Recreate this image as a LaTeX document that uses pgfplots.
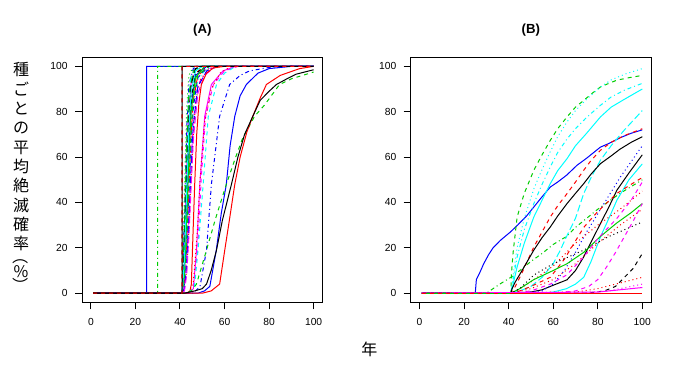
\documentclass[border=0pt]{standalone}
\usepackage{pgfplots}
\pgfplotsset{compat=1.18}
\usepackage{fontspec}
\setmainfont{Liberation Sans}
\newfontfamily\cjk{Noto Sans CJK JP}
\definecolor{rgreen}{HTML}{00CD00}
\definecolor{rblue}{HTML}{0000FF}
\definecolor{rcyan}{HTML}{00FFFF}
\definecolor{rmag}{HTML}{FF00FF}
\definecolor{rred}{HTML}{FF0000}
\tikzset{
 Lso/.style={solid},
 Lda/.style={dash pattern=on 3pt off 3pt},
 Ldo/.style={dash pattern=on 0.75pt off 2.25pt},
 Ldd/.style={dash pattern=on 0.75pt off 2.25pt on 3pt off 2.25pt},
 Lld/.style={dash pattern=on 5.25pt off 2.25pt},
}
\pgfplotsset{Rax/.style={
 scale only axis, width=180.4pt, height=183.75pt,
 xmin=-4, xmax=104, ymin=-4, ymax=104,
 xtick={0,20,...,100}, ytick={0,20,...,100},
 tick align=outside, tick pos=left,
 major tick length=5.25pt,
 every tick/.style={black, line width=0.75pt},
 axis line style={black, line width=0.75pt},
 tick label style={font=\fontsize{7.7}{9}\selectfont},
 xticklabel style={yshift=-3pt},
 yticklabel style={xshift=-2pt},
 /pgf/number format/assume math mode=true,
 every axis plot/.append style={line width=0.75pt},
 anchor=south west,
}}
\begin{document}
\begin{tikzpicture}[x=1pt,y=1pt]
\path[use as bounding box] (0,0) rectangle (510,280.5);
% ---------------- Panel A ----------------
\begin{axis}[Rax, at={(61.5pt,53.8pt)}]
\addplot[rblue,Lso] coordinates {(1,0)(25,0)(25.01,100)(100,100)};
\addplot[rgreen,Ldd] coordinates {(1,0)(30,0)(30.01,100)(100,100)};
\addplot[rgreen,Ldo] coordinates {(1,0)(41,0)(42,45)(43,82)(44,96)(46,100)(100,100)};
\addplot[rblue,Ldd] coordinates {(1,0)(41,0)(42,35)(43,72)(44,92)(46,99)(48,100)(100,100)};
\addplot[rcyan,Lld] coordinates {(1,0)(41,0)(42,28)(43,62)(44,86)(45,96)(48,100)(100,100)};
\addplot[rmag,Lda] coordinates {(1,0)(41,0)(42,22)(43,55)(44,80)(45,93)(47,99)(50,100)(100,100)};
\addplot[black,Ldo] coordinates {(1,0)(41,0)(42,18)(43,48)(44,75)(45,90)(47,98)(50,100)(100,100)};
\addplot[rred,Ldd] coordinates {(1,0)(41,0)(42,14)(43,42)(44,70)(45,87)(47,97)(51,100)(100,100)};
\addplot[rgreen,Lld] coordinates {(1,0)(41,0)(42,30)(43,66)(44,88)(46,98)(49,100)(100,100)};
\addplot[rblue,Lso] coordinates {(1,0)(41,0)(42,10)(43,35)(44,63)(45,83)(47,96)(52,100)(100,100)};
\addplot[rcyan,Lda] coordinates {(1,0)(41,0)(42,8)(43,30)(44,58)(45,80)(47,95)(52,100)(100,100)};
\addplot[rmag,Ldo] coordinates {(1,0)(41,0)(42,6)(43,25)(44,52)(45,75)(47,93)(50,98)(55,100)(100,100)};
\addplot[black,Ldd] coordinates {(1,0)(41,0)(42,12)(43,38)(44,66)(45,85)(47,97)(52,100)(100,100)};
\addplot[rred,Lld] coordinates {(1,0)(41,0)(42,5)(43,20)(44,45)(45,70)(46,85)(48,96)(53,100)(100,100)};
\addplot[rgreen,Lso] coordinates {(1,0)(41,0)(42,9)(43,33)(44,60)(45,80)(47,95)(51,100)(100,100)};
\addplot[rblue,Lda] coordinates {(1,0)(41,0)(42,4)(43,18)(44,42)(45,66)(46,82)(48,95)(53,100)(100,100)};
\addplot[rcyan,Ldo] coordinates {(1,0)(41,0)(42,3)(43,15)(44,38)(45,62)(46,80)(48,94)(52,99)(58,100)(100,100)};
\addplot[rmag,Ldd] coordinates {(1,0)(41,0)(42,4)(43,16)(44,36)(45,58)(46,76)(48,92)(53,99)(58,100)(100,100)};
\addplot[black,Lld] coordinates {(1,0)(41,0)(42,20)(43,52)(44,78)(45,92)(47,99)(50,100)(100,100)};
\addplot[rred,Ldo] coordinates {(1,0)(41,0)(42,2)(43,10)(44,28)(45,50)(46,70)(47,84)(49,94)(53,99)(58,100)(100,100)};
\addplot[rgreen,Lda] coordinates {(1,0)(41,0)(42,6)(43,24)(44,50)(45,72)(46,86)(48,96)(53,100)(100,100)};
\addplot[rblue,Lld] coordinates {(1,0)(41,0)(42,2)(43,12)(44,32)(45,55)(46,74)(48,91)(52,98)(57,100)(100,100)};
\addplot[rcyan,Lso] coordinates {(1,0)(41,0)(42,15)(43,45)(44,73)(45,89)(47,98)(50,100)(100,100)};
\addplot[rmag,Lld] coordinates {(1,0)(41,0)(42,1)(43,8)(44,25)(45,47)(46,68)(48,88)(51,96)(56,100)(100,100)};
\addplot[rred,Lso] coordinates {(1,0)(43,0)(44.5,1)(45.1,4)(45.8,25)(46.6,48)(47.5,70)(48.5,84)(49.6,92)(51.9,97)(55,99.3)(60,100)(100,100)};
\addplot[rmag,Lso] coordinates {(1,0)(44,0)(46,2)(47.4,19)(48.9,48)(51.1,78)(54.1,92)(59.3,98)(65,100)(100,100)};
\addplot[rmag,Lda] coordinates {(1,0)(44,0)(46,3)(48,20)(49.5,50)(51.5,78)(55,92)(60,98)(66,100)(100,100)};
\addplot[rred,Ldo] coordinates {(1,0)(44,0)(46,5)(48,30)(49,50)(51,75)(54,90)(58,97)(63,100)(100,100)};
\addplot[rcyan,Lda] coordinates {(1,0)(44,0)(46.5,3)(48.1,19)(50.4,48)(52.7,78)(56.4,92)(60,97)(65,100)(100,100)};
\addplot[rblue,Ldd] coordinates {(1,0)(46,0)(49,3)(51.9,19)(54.1,48)(57.8,78)(62.3,92)(67,96)(71.3,98)(80,99.5)(90,100)(100,100)};
\addplot[rblue,Lso] coordinates {(1,0)(48,0)(51,1)(53.4,3)(56.3,19)(58.5,35)(60.8,48)(62.5,65)(64.6,78)(67,87)(69.8,92)(75,97)(80,99)(90,100)(100,100)};
\addplot[rgreen,Lda] coordinates {(1,0)(42,0)(45,1)(47.4,4)(51.9,19)(56,33)(60.8,48)(65,60)(68,68)(73.5,78)(78,83)(84.7,92)(90,94.5)(95,96)(100,97.5)};
\addplot[rred,Lso] coordinates {(1,0)(50,0)(54,1)(57.8,4)(60.1,19)(62.3,33)(64.6,48)(67,60)(70,71)(72.7,78)(76,86)(78.8,92)(85,96)(93.7,99)(100,100)};
\addplot[black,Lso] coordinates {(1,0)(42,0)(46.6,1)(50,2)(51.9,4)(54,10)(56.4,19)(59,32)(63.1,48)(66,60)(69,70)(72.7,78)(76,85)(80,89)(83.3,92)(88,94.5)(92,96.5)(96,97.5)(100,98.5)};
\addplot[black,Lso] coordinates {(1,0)(41,0)(41.01,100)(100,100)};
\addplot[black,Lda] coordinates {(1,0)(41,0)(41.01,100)(100,100)};
\addplot[rred,Lda] coordinates {(1,0)(41,0)(41.01,100)(100,100)};
\end{axis}
% ---------------- Panel B ----------------
\begin{axis}[Rax, at={(308pt,53.8pt)}]
\addplot[black,Lso] coordinates {(1,0)(100,0)};
\addplot[rblue,Lso] coordinates {(1,0)(25,0)(25.5,6)(27,9)(28.8,13)(31,17)(33,20)(36.3,23.3)(40.8,27)(44,30)(48,34)(51.3,38)(55,42.5)(58.7,46.8)(62,49)(66,52)(70.7,56.4)(75,59.5)(81.2,64.4)(85,66)(90,68.5)(95,70.5)(100,72)};
\addplot[rgreen,Ldd] coordinates {(1,0)(30,0)(33,2)(36,4)(41,7)(45,10)(50,14)(55,17.5)(60,21.5)(66,25)(70,29)(75,33)(80,37)(85,40.5)(90,44)(95,47)(100,50)};
\addplot[rgreen,Lda] coordinates {(1,0)(41,0)(41.2,8)(42,18)(43.8,33.6)(47,44)(51.3,54.2)(55,61)(58.7,67.4)(62,72.5)(66.2,77.7)(70,82)(73.7,85)(78,88.5)(81.2,90.9)(85,92.5)(88.6,93.9)(94,95)(100,96)};
\addplot[rcyan,Ldo] coordinates {(1,0)(41,0)(42.3,10)(43.8,20)(47,33)(51.3,46)(54.3,53)(58,61)(62,69)(66.2,75.5)(70,80.5)(75,85.5)(81.2,90.9)(86,94)(92,96.5)(100,99)};
\addplot[rcyan,Ldd] coordinates {(1,0)(41,0)(42,6)(43.8,16)(47,28)(51.3,39.5)(55,48)(58.7,55.7)(62,62)(66.2,68)(70,72.5)(75,77.5)(81.2,82.8)(86,86.5)(92,89.5)(100,92.5)};
\addplot[rcyan,Lso] coordinates {(1,0)(41,0)(42,4)(43.8,11.6)(47,22)(51.3,33.6)(55,41)(58.7,48.3)(62,54)(66.2,59.3)(70,65)(75,70.5)(81.2,77.7)(86,82)(92,85.5)(100,90)};
\addplot[rcyan,Lld] coordinates {(1,0)(41,0)(45,1)(50,3)(55,7)(60,13)(63.2,19)(66,25)(70,33)(73.7,43.9)(77,51)(81.2,58.6)(86,65)(92,72)(100,80.5)};
\addplot[rcyan,Lso] coordinates {(1,0)(55,0)(60,0.5)(66,2)(70,4)(73.7,7)(77,14)(81.2,24.8)(85,33)(88.6,41)(94,50)(100,57)};
\addplot[rred,Lda] coordinates {(1,0)(41,0)(43,3)(46,9)(51.3,20.4)(55,27)(58.7,33.6)(62,38.5)(66.2,43.9)(70,49)(73.7,54.2)(77,58.5)(81.2,63)(86,66.5)(92,69.5)(100,72.5)};
\addplot[black,Lso] coordinates {(1,0)(41,0)(41.5,2)(43,5)(46,10)(51.3,19)(55,24.5)(58.7,29.2)(62,34)(66.2,39.5)(70,44)(73.7,48.3)(77,52.5)(81.2,57.1)(86,60.5)(90,63.5)(95,66.5)(100,69)};
\addplot[black,Lso] coordinates {(1,0)(41,0)(50,0.5)(55,1.5)(60,3.5)(66.2,5.9)(70,10)(73.7,16)(77,22.5)(81.2,30.7)(85,38)(88.6,45.4)(94,53)(100,61)};
\addplot[rblue,Ldo] coordinates {(1,0)(41,0)(55,1)(60,4)(65,10)(70,18)(75,27)(80,35)(85,43)(90,51)(95,58)(100,65)};
\addplot[rred,Lda] coordinates {(1,0)(41,0)(45,1)(50,3)(58.7,7)(65,15)(73.7,29)(80,36)(88.6,44)(95,48)(100,51)};
\addplot[rred,Ldo] coordinates {(1,0)(41,0)(45,2)(50,5)(60,12)(70,22)(80,30)(90,37)(100,45)};
\addplot[rred,Ldo] coordinates {(1,0)(41,0)(50,2)(60,6)(70,13)(80,22)(90,30)(100,37)};
\addplot[rgreen,Lso] coordinates {(1,0)(41,0)(45,2)(51.3,6)(60,10)(66.2,13)(73.7,18)(81.2,25)(88.6,31)(95,35.5)(100,39.5)};
\addplot[black,Ldo] coordinates {(1,0)(41,0)(45,2)(51.3,8)(60,13)(73.7,19)(85,25)(100,31.4)};
\addplot[rmag,Lda] coordinates {(1,0)(41,0)(50,1)(58.7,4)(66,8)(73.7,16)(80,24)(88.6,33)(95,41)(100,49)};
\addplot[rmag,Lda] coordinates {(1,0)(60,0)(70,1)(76,3)(80,6)(84,11.6)(88,18)(92,25)(96,32)(100,39.5)};
\addplot[black,Lda] coordinates {(1,0)(75,0)(83,1)(88,3)(92,7)(96,11)(100,17.5)};
\addplot[rred,Ldo] coordinates {(1,0)(70,0.5)(80,2)(90,4.5)(100,7)};
\addplot[rmag,Ldo] coordinates {(1,0)(70,0)(85,1)(100,4)};
\addplot[rmag,Lso] coordinates {(1,0)(80,0.5)(90,1.5)(100,2.5)};
\addplot[rgreen,Lso] coordinates {(1,0)(100,0)};
\addplot[rred,Lso] coordinates {(41,0)(100,0)};
\addplot[rred,Lda] coordinates {(1,0)(41,0)};
\end{axis}
% ---------------- Texts ----------------
\node[font=\bfseries\fontsize{9.9}{12}\selectfont] at (151.7,258) {(A)};
\node[font=\bfseries\fontsize{9.9}{12}\selectfont] at (398.1,258) {(B)};
\node[font=\cjk\fontsize{12}{14}\selectfont] at (277,18.8) {年};
\node[font=\cjk\fontsize{12}{14.5}\selectfont, align=center, inner sep=0pt] at (15.75,162.75)
 {種\\ご\\と\\の\\平\\均\\絶\\滅\\確\\率};
\node[font=\cjk\fontsize{12}{14}\selectfont, inner sep=0pt, rotate=-90] at (15.75,88) {（};
\node[font=\cjk\fontsize{12}{14}\selectfont, inner sep=0pt] at (15.75,76.5) {\%};
\node[font=\cjk\fontsize{12}{14}\selectfont, inner sep=0pt, rotate=-90] at (15.75,66) {）};
\end{tikzpicture}
\end{document}
